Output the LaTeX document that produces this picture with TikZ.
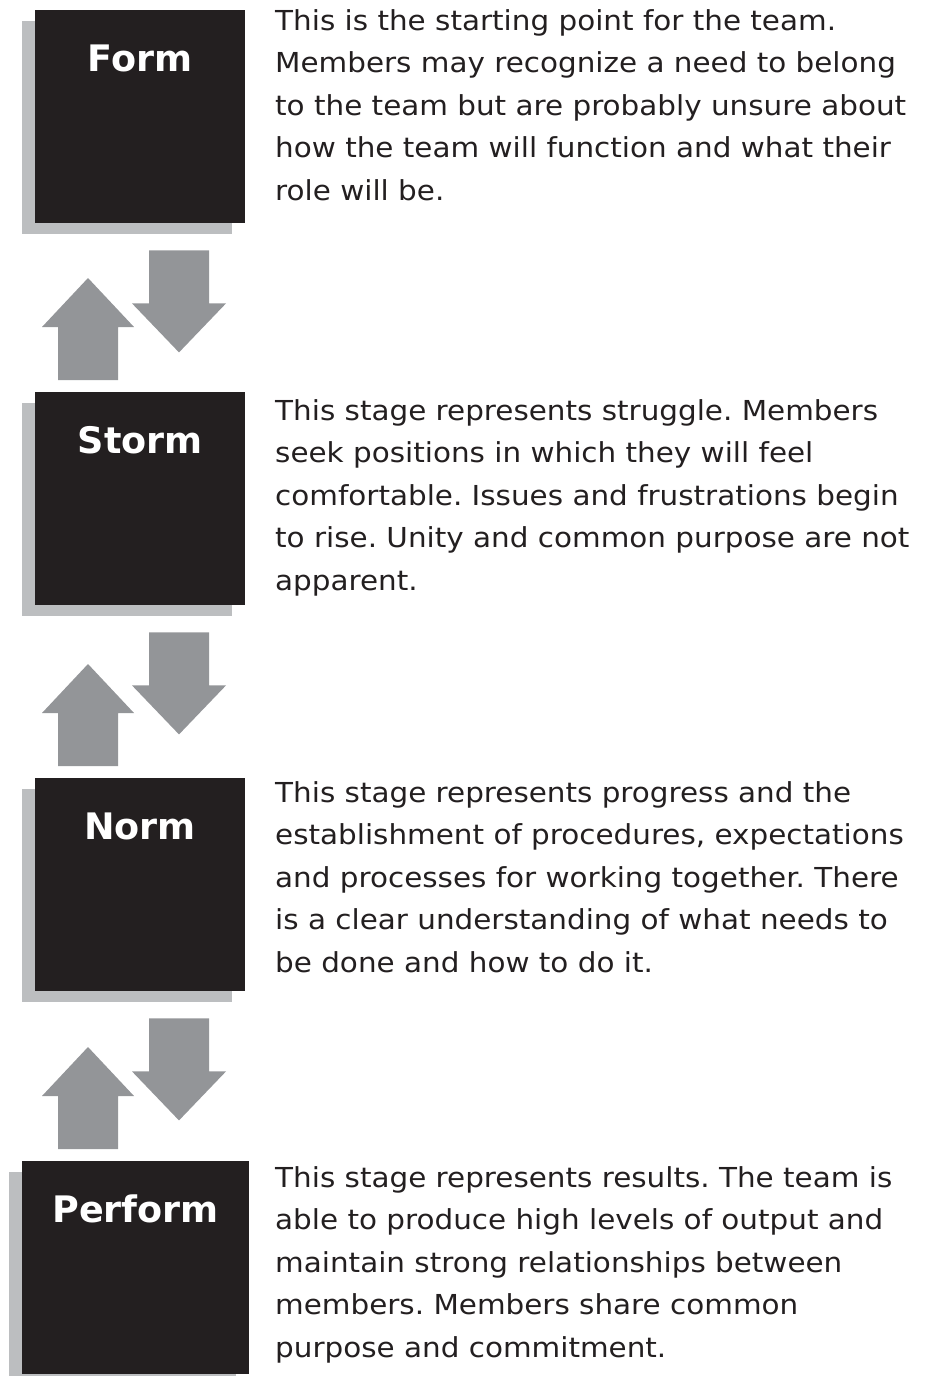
\documentclass[tikz,border=0pt]{standalone}
\usepackage{fontspec}
\setmainfont{DejaVu Sans}
\newfontfamily\descfont{DejaVu Sans}[FakeStretch=1.07]
\usetikzlibrary{calc, positioning, shadows}
\definecolor{boxInk}{RGB}{35, 31, 32}
\definecolor{boxShade}{RGB}{188, 190, 192}
\definecolor{arrowGray}{RGB}{147, 149, 152}
\frenchspacing

\tikzset{
  stage/.style={fill=boxInk, inner sep=0pt, anchor=north west,
    minimum width=210pt, minimum height=213pt,
    general shadow={shadow xshift=-13pt, shadow yshift=-11pt, fill=boxShade}},
  stagename/.style={anchor=base, text=white, inner sep=0pt,
    font=\bfseries\fontsize{36.5}{40}\selectfont},
  % base of a multi-line node = baseline of its last line
  stagetext/.style={anchor=base west, align=left, inner sep=0pt, text=boxInk,
    font=\descfont\fontsize{27.5}{42.5}\selectfont},
}

\begin{document}
\begin{tikzpicture}[x=1pt, y=-1pt]
  \useasboundingbox (0,0) rectangle (929,1376);

  % black stage boxes with their grey shadow
  \node[stage] (form) at (35,10) {};
  \node[stage] (storm) at (35,392) {};
  \node[stage] (norm) at (35,778) {};
  \node[stage, minimum width=227pt] (perform) at (22,1161) {};

  \node[stagename] (formname) at ($(form.north)+(0,61)$) {Form};
  \node[stagename] (stormname) at ($(storm.north)+(0,61)$) {Storm};
  \node[stagename] (normname) at ($(norm.north)+(0,61)$) {Norm};
  \node[stagename] (performname) at ($(perform.north)+(0,61)$) {Perform};

  % up and down block arrows between neighbouring stages
  \foreach \hi/\lo in {form/storm, storm/norm, norm/perform} {
    \coordinate (dn) at ($(\hi.south west)+(114,27)$);
    \coordinate (up) at ($(\hi.south west |- \lo.north)+(23,-12)$);
    \fill[arrowGray] (dn) -- ++(60,0) -- ++(0,53) -- ++(17,0) -- ++(-47,49)
      -- ++(-47,-49) -- ++(17,0) -- cycle;
    \fill[arrowGray] (up) -- ++(60,0) -- ++(0,-53) -- ++(16,0) -- ++(-46,-49)
      -- ++(-46,49) -- ++(16,0) -- cycle;
  }

  % descriptions, placed by the baseline of their fifth line
  \node[stagetext] (formtext) at (275,200) {This is the starting point for the team.\\
    Members may recognize a need to belong\\
    to the team but are probably unsure about\\
    how the team will function and what their\\
    role will be.};
  \node[stagetext] (stormtext) at (275,590) {This stage represents struggle. Members\\
    seek positions in which they will feel\\
    comfortable. Issues and frustrations begin\\
    to rise. Unity and common purpose are not\\
    apparent.};
  \node[stagetext] (normtext) at (275,972) {This stage represents progress and the\\
    establishment of procedures, expectations\\
    and processes for working together. There\\
    is a clear understanding of what needs to\\
    be done and how to do it.};
  \node[stagetext] (performtext) at (275,1357) {This stage represents results. The team is\\
    able to produce high levels of output and\\
    maintain strong relationships between\\
    members. Members share common\\
    purpose and commitment.};
\end{tikzpicture}
\end{document}
